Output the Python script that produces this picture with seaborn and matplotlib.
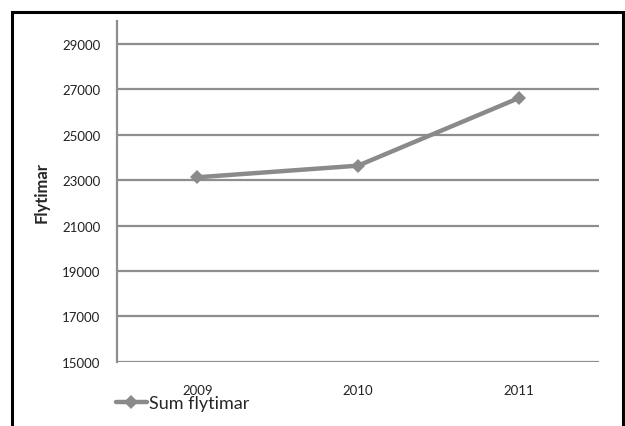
import seaborn as sns
import matplotlib.pyplot as plt
import matplotlib.patches as patches
import pandas as pd

years = ['2009', '2010', '2011']
flytimar = [23120, 23630, 26600]
yticks = [15000, 17000, 19000, 21000, 23000, 25000, 27000, 29000]

df = pd.DataFrame({'year': years, 'Sum flytimar': flytimar})

sns.set_style('white')
plt.rcParams['font.family'] = ['Lato', 'DejaVu Sans']

fig = plt.figure(figsize=(6.25, 4.27), dpi=100)
ax = fig.add_axes([0.1872, 0.1499, 0.7712, 0.7991])

grid_col = '#8e8e8e'
for y in yticks:
    ax.axhline(y, color=grid_col, lw=1.6, zorder=1)

sns.lineplot(data=df, x='year', y='Sum flytimar', ax=ax, color='#8a8a8a',
             lw=3.2, marker='D', markersize=7, markeredgewidth=0,
             label='Sum flytimar', sort=False, zorder=3)

ax.set_xlim(-0.5, 2.5)
ax.set_ylim(15000, 30000)
ax.set_yticks(yticks)
ax.set_yticklabels([str(v) for v in yticks])
ax.tick_params(axis='both', length=0, labelsize=9.5, colors='#222222')
ax.tick_params(axis='y', pad=12)
ax.tick_params(axis='x', pad=16)
ax.set_xlabel('')
ax.set_ylabel('Flytimar', fontsize=12, fontweight='bold', labelpad=9)

for s in ['top', 'right']:
    ax.spines[s].set_visible(False)
ax.spines['left'].set_color(grid_col)
ax.spines['left'].set_linewidth(1.6)
ax.spines['bottom'].set_visible(False)

ax.legend_.remove()
handles, labels = ax.get_legend_handles_labels()
fig.legend(handles, labels, loc='center left',
           bbox_to_anchor=(116 / 625, 1 - 404 / 427),
           frameon=False, fontsize=13, handlelength=1.7, handletextpad=0.15,
           borderaxespad=0, borderpad=0)

# outer frame
fig.patches.append(patches.Rectangle((12 / 625, -0.05), 611 / 625, 1 - 13 / 427 + 0.05,
                                     transform=fig.transFigure, fill=False,
                                     edgecolor='black', lw=2.2))

fig.savefig('out.png', dpi=100)
